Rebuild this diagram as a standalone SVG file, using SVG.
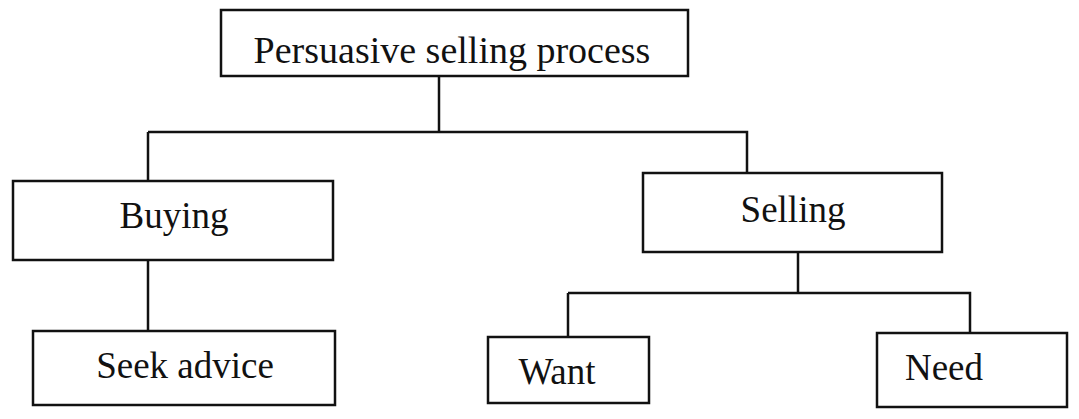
<svg xmlns="http://www.w3.org/2000/svg" width="1079" height="419" viewBox="0 0 1079 419">
<style>
.box{fill:#fff;stroke:#111;stroke-width:2.5}
.lbl{font-family:"Liberation Serif","Times New Roman",serif;fill:#111;text-anchor:middle}
.con{fill:none;stroke:#111;stroke-width:2.5}
</style>
<rect width="1079" height="419" fill="#fff"/>
<g id="connectors">
<path class="con" d="M439 76 V131"/>
<path class="con" d="M148 132 H747 V173"/>
<path class="con" d="M148 132 V181"/>
<path class="con" d="M148 260 V331"/>
<path class="con" d="M798 252 V293"/>
<path class="con" d="M568 293 H970 V333"/>
<path class="con" d="M568 293 V337"/>
</g>
<g id="n-process">
<rect class="box" x="221" y="10" width="467" height="66"/>
<text class="lbl" x="452" y="63" font-size="38">Persuasive selling process</text>
</g>
<g id="n-buying">
<rect class="box" x="13" y="181" width="320" height="79"/>
<text class="lbl" x="174" y="228" font-size="37">Buying</text>
</g>
<g id="n-selling">
<rect class="box" x="643" y="173" width="299" height="79"/>
<text class="lbl" x="793" y="222" font-size="37">Selling</text>
</g>
<g id="n-seek">
<rect class="box" x="33" y="331" width="302" height="74"/>
<text class="lbl" x="185" y="378" font-size="37">Seek advice</text>
</g>
<g id="n-want">
<rect class="box" x="488" y="337" width="161" height="66"/>
<text class="lbl" x="557" y="384" font-size="37">Want</text>
</g>
<g id="n-need">
<rect class="box" x="877" y="333" width="190" height="74"/>
<text class="lbl" x="944" y="380" font-size="37">Need</text>
</g>
</svg>
